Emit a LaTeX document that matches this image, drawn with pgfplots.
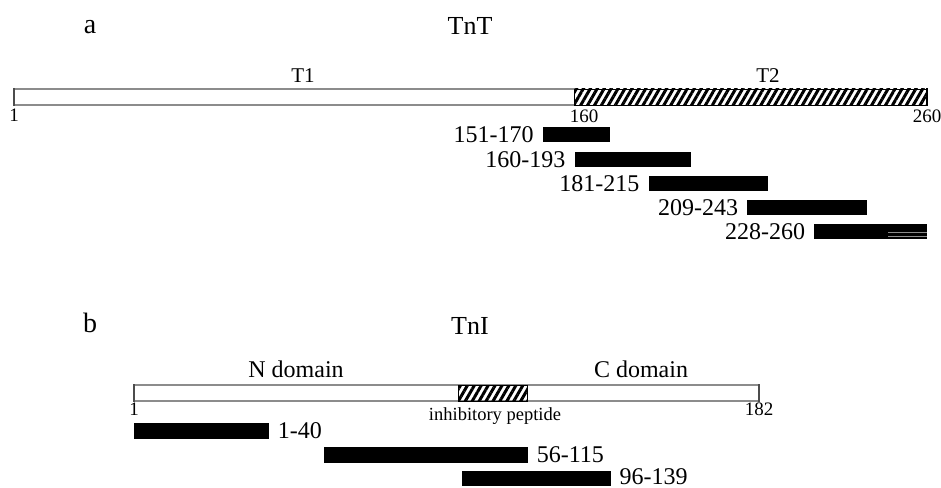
\documentclass[border=0pt]{standalone}
\usepackage{pgfplots}
\pgfplotsset{compat=1.18}
\usepackage{fontspec}
\setmainfont{Liberation Serif}
\usetikzlibrary{patterns.meta}

\newcommand{\fs}[1]{\fontsize{#1}{#1}\selectfont}

% each map axis: residues along x, drawing rows (in pt, top down) along y
\pgfplotsset{
  mapaxis/.style={
    scale only axis, height=487pt, ymin=0, ymax=487, y dir=reverse,
    axis lines=none, ticks=none, clip=false, anchor=south west,
  },
  domain/.style={fill=white, draw=black!45, line width=1.3pt},
  hatched/.style={pattern={Lines[angle=60,distance=6pt,line width=3pt]},
    pattern color=black, draw=black, line width=0.8pt},
  endmark/.style={draw=black!70, line width=1.6pt},
}

% fragment bar: first residue, last residue, top row, bottom row
\newcommand{\fragment}[4]{%
  \addplot[fill=black, draw=none] coordinates {(#1,#3) (#2,#3) (#2,#4) (#1,#4)} -- cycle;}

\begin{document}
\begin{tikzpicture}[x=1pt,y=1pt]

% ---------------- TnT ----------------
\begin{axis}[mapaxis, at={(14pt,0pt)}, width=913pt, xmin=1, xmax=260]
  \addplot[domain] coordinates {(1,89) (160,89) (160,105) (1,105)} -- cycle;
  \addplot[hatched] coordinates {(160,89) (260,89) (260,105) (160,105)} -- cycle;
  \addplot[endmark] coordinates {(1,88) (1,106)};
  \addplot[endmark, draw=black] coordinates {(260,88.5) (260,105.5)};

  \fragment{151}{170}{127.5}{142.5}
  \fragment{160}{193}{152}{167}
  \fragment{181}{215}{176}{191}
  \fragment{209}{243}{200}{215}
  \fragment{228}{260}{224}{239}
  \addplot[draw=black!45, line width=0.7pt] coordinates {(249,232.5) (260,232.5)};
  \addplot[draw=black!45, line width=0.7pt] coordinates {(249,236.5) (260,236.5)};

  \begin{scope}[every node/.style={anchor=east, inner sep=0pt, font=\fs{24}, xshift=-9pt}]
    \node at (axis cs:151,135)   {151-170};
    \node at (axis cs:160,159.5) {160-193};
    \node at (axis cs:181,183.5) {181-215};
    \node at (axis cs:209,207.5) {209-243};
    \node at (axis cs:228,231.5) {228-260};
  \end{scope}
\end{axis}

% ---------------- TnI ----------------
\begin{axis}[mapaxis, at={(134pt,0pt)}, width=625pt, xmin=1, xmax=182]
  \addplot[domain] coordinates {(1,385) (182,385) (182,401) (1,401)} -- cycle;
  \addplot[hatched] coordinates {(95,385) (115,385) (115,401) (95,401)} -- cycle;
  \addplot[endmark] coordinates {(1,384) (1,402)};
  \addplot[endmark] coordinates {(182,384) (182,402)};

  \fragment{1}{40}{423}{438.5}
  \fragment{56}{115}{447}{462.5}
  \fragment{96}{139}{470.5}{486}

  \begin{scope}[every node/.style={anchor=west, inner sep=0pt, font=\fs{24}, xshift=9pt}]
    \node at (axis cs:40,430.5)  {1-40};
    \node at (axis cs:115,454.5) {56-115};
    \node at (axis cs:139,477)   {96-139};
  \end{scope}
\end{axis}

% ---------------- titles and labels ----------------
\begin{scope}[every node/.style={anchor=base, inner sep=0pt}]
  \node[font=\fs{28}] at (90,453) {a};
  \node[font=\fs{26}] at (470,452) {TnT};
  \node[font=\fs{21}] at (303,404) {T1};
  \node[font=\fs{21}] at (768,404) {T2};
  \node[font=\fs{19}] at (14,365) {1};
  \node[font=\fs{19}] at (584,364) {160};
  \node[font=\fs{19}] at (927,364) {260};

  \node[font=\fs{28}] at (90,154) {b};
  \node[font=\fs{26}] at (470,152) {TnI};
  \node[font=\fs{24}] at (296,109) {N domain};
  \node[font=\fs{24}] at (641,109) {C domain};
  \node[font=\fs{19}] at (134,72) {1};
  \node[font=\fs{19}] at (759,72) {182};
  \node[font=\fs{18.5}] at (495,67) {inhibitory peptide};
\end{scope}

\pgfresetboundingbox
\path (0,0) rectangle (941,487);
\end{tikzpicture}
\end{document}
